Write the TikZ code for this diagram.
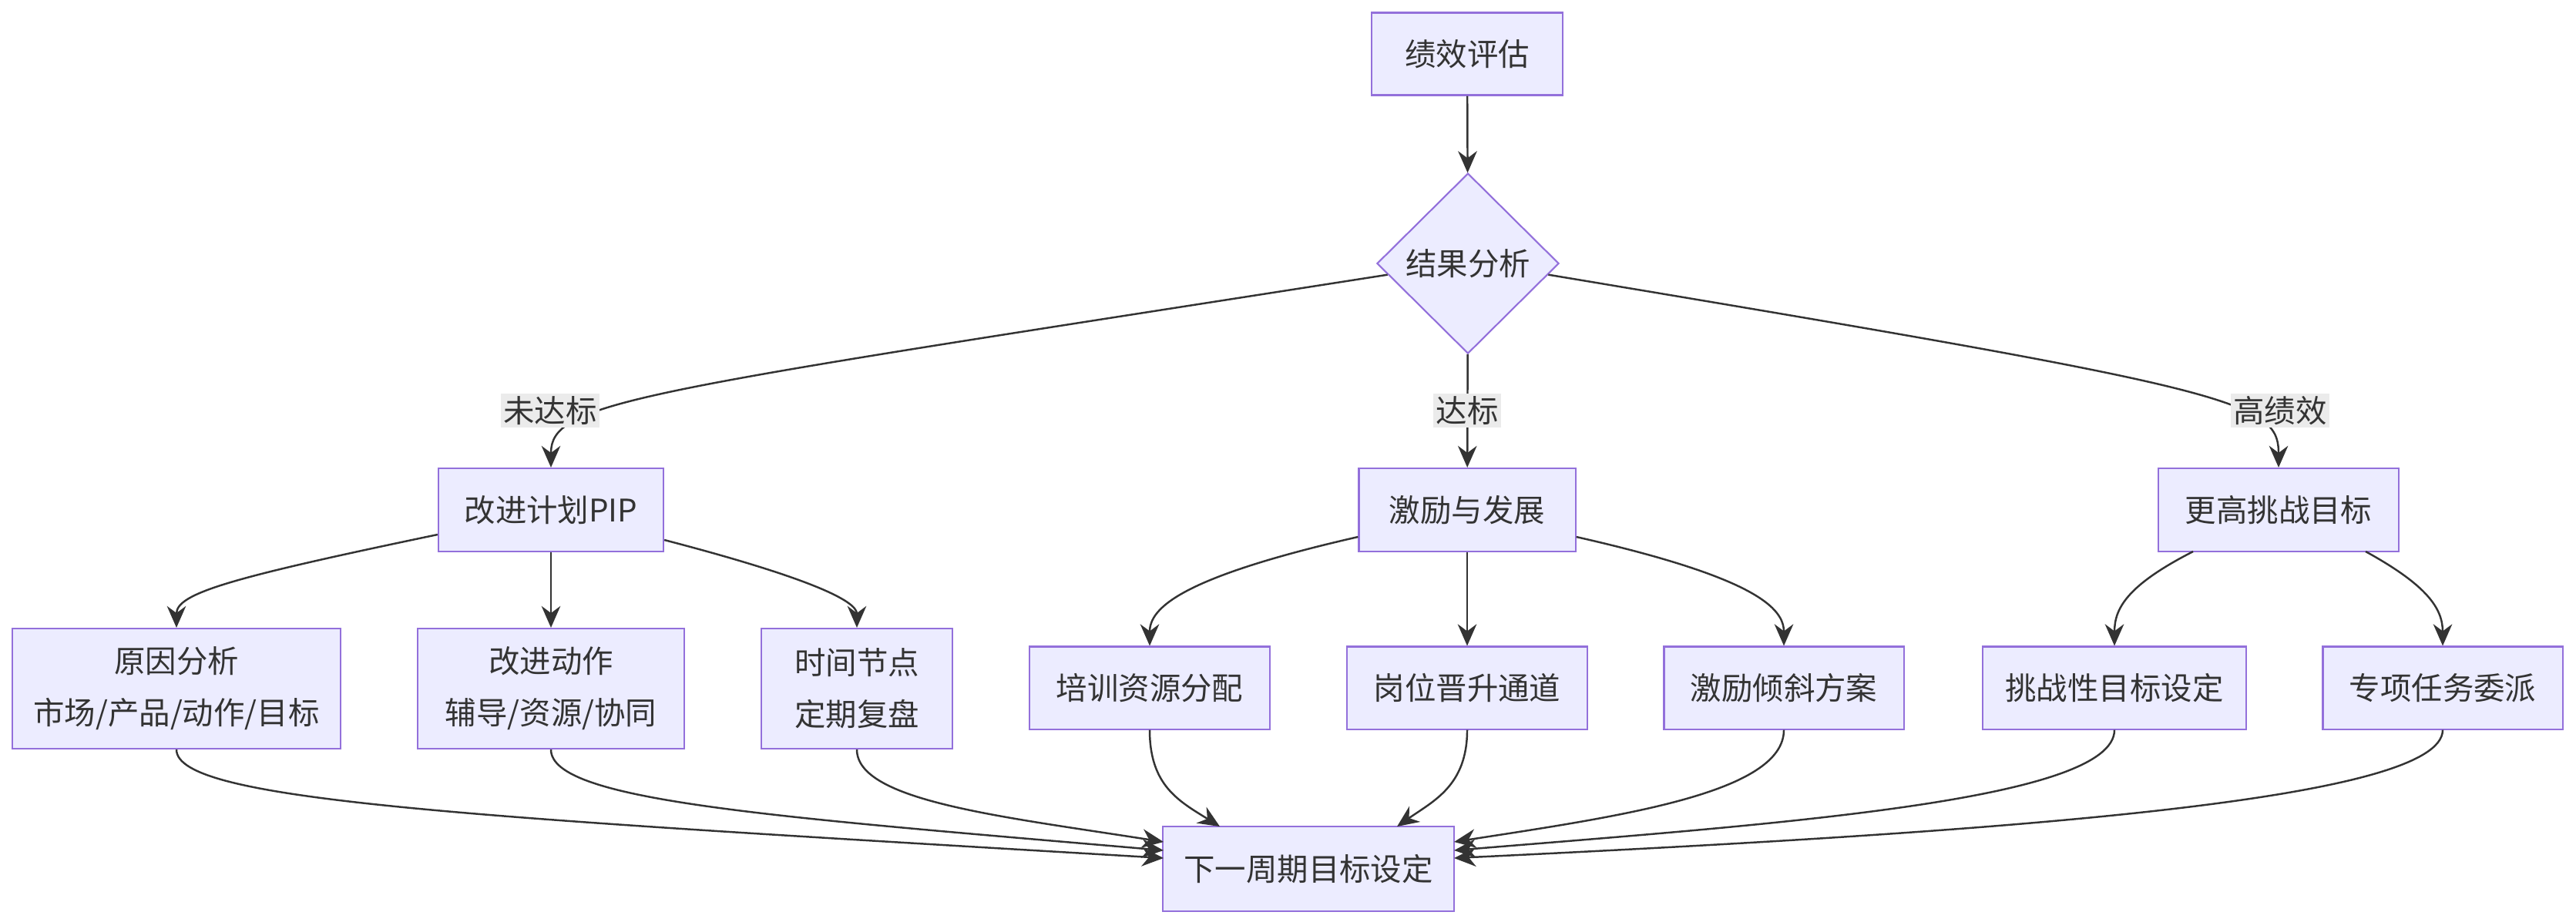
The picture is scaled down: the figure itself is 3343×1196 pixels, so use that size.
\documentclass[tikz,border=0pt]{standalone}
\usepackage{fontspec}
\setmainfont{Noto Sans CJK SC}
\usetikzlibrary{arrows.meta,shapes.geometric}
\definecolor{boxfill}{HTML}{ECECFF}
\definecolor{boxline}{HTML}{9370DB}
\definecolor{edgecolor}{HTML}{333333}
\tikzset{
    box/.style={draw=boxline,fill=boxfill,line width=0.6pt,inner sep=0pt,align=center,text=edgecolor},
    decision/.style={box,diamond,aspect=0.9},
    arr/.style={->,>={Stealth[length=8pt,width=7pt]},draw=edgecolor,line width=0.7pt},
    edge label/.style={fill=black!8,inner sep=1pt,text=edgecolor},
}
\tikzstyle{every node}=[font=\fontsize{11.5}{19}\selectfont]

\begin{document}
\begin{tikzpicture}[x=0.01cm,y=-0.01cm]
    \useasboundingbox (0,0) rectangle (3343,1196);
    % nodes
    \node[box,minimum width=2.48cm,minimum height=1.07cm] (eval) at (1904,70) {绩效评估};
    \node[decision,minimum width=2.36cm,minimum height=2.34cm] (dia) at (1905,342) {结果分析};
    \node[box,minimum width=2.92cm,minimum height=1.08cm] (pip) at (715,662) {改进计划PIP};
    \node[box,minimum width=2.81cm,minimum height=1.08cm] (grow) at (1904,662) {激励与发展};
    \node[box,minimum width=3.12cm,minimum height=1.08cm] (high) at (2957,662) {更高挑战目标};
    \node[box,minimum width=4.25cm,minimum height=1.56cm] (cause) at (229,894) {原因分析\\市场/产品/动作/目标};
    \node[box,minimum width=3.45cm,minimum height=1.56cm] (act) at (715,894) {改进动作\\辅导/资源/协同};
    \node[box,minimum width=2.48cm,minimum height=1.56cm] (time) at (1112,894) {时间节点\\定期复盘};
    \node[box,minimum width=3.11cm,minimum height=1.07cm] (train) at (1492,893) {培训资源分配};
    \node[box,minimum width=3.12cm,minimum height=1.07cm] (promo) at (1904,893) {岗位晋升通道};
    \node[box,minimum width=3.11cm,minimum height=1.07cm] (bonus) at (2315,893) {激励倾斜方案};
    \node[box,minimum width=3.41cm,minimum height=1.07cm] (chal) at (2744,893) {挑战性目标设定};
    \node[box,minimum width=3.11cm,minimum height=1.07cm] (task) at (3170,893) {专项任务委派};
    \node[box,minimum width=3.77cm,minimum height=1.10cm] (next) at (1698,1128) {下一周期目标设定};
    % ports on the last node
    \coordinate (inA) at (1510,1093);
    \coordinate (inB) at (1510,1104);
    \coordinate (inC) at (1510,1114);
    \coordinate (inD) at (1887,1093);
    \coordinate (inE) at (1887,1104);
    \coordinate (inF) at (1887,1114);

    \draw[arr] (eval) -- (dia);
    \draw[arr] (dia.188) .. controls (820,510) and (715,520) .. (pip.north);
    \draw[arr] (dia) -- (grow);
    \draw[arr] (dia.-8) .. controls (2900,505) and (2957,520) .. (high.north);
    \node[edge label] (lfail) at (714,533) {未达标};
    \node[edge label] (lpass) at (1904,533) {达标};
    \node[edge label] (lhigh) at (2959,533) {高绩效};

    \draw[arr] (pip.west |- 0,694) .. controls (300,750) and (229,770) .. (cause.north);
    \draw[arr] (pip) -- (act);
    \draw[arr] (pip.east |- 0,701) .. controls (1050,750) and (1112,780) .. (time.north);
    \draw[arr] (grow.west |- 0,697) .. controls (1530,750) and (1492,790) .. (train.north);
    \draw[arr] (grow) -- (promo);
    \draw[arr] (grow.east |- 0,697) .. controls (2280,750) and (2315,790) .. (bonus.north);
    \draw[arr] (2846,716) .. controls (2760,760) and (2744,790) .. (chal.north);
    \draw[arr] (3070,716) .. controls (3150,760) and (3170,790) .. (task.north);

    \draw[arr] (cause.south) .. controls (229,1040) and (600,1060) .. (inC);
    \draw[arr] (act.south) .. controls (715,1040) and (1000,1060) .. (inB);
    \draw[arr] (time.south) .. controls (1112,1040) and (1300,1060) .. (inA);
    \draw[arr] (train.south) .. controls (1492,1020) and (1530,1040) .. (1583,1073);
    \draw[arr] (promo.south) .. controls (1904,1020) and (1860,1040) .. (1813,1073);
    \draw[arr] (bonus.south) .. controls (2315,1030) and (2100,1060) .. (inD);
    \draw[arr] (chal.south) .. controls (2744,1040) and (2300,1070) .. (inE);
    \draw[arr] (task.south) .. controls (3170,1040) and (2600,1080) .. (inF);
\end{tikzpicture}
\end{document}
